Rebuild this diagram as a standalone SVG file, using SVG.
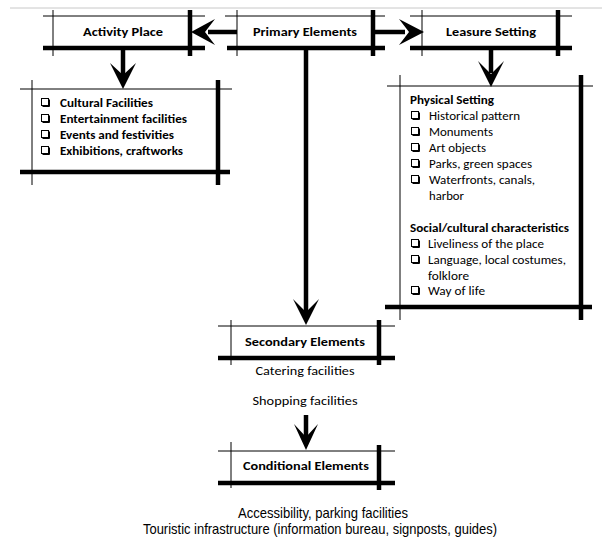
<svg xmlns="http://www.w3.org/2000/svg" xmlns:xlink="http://www.w3.org/1999/xlink" width="602" height="542" viewBox="0 0 602 542">
<style>
.thin{stroke:#000;stroke-width:1;fill:none}
.thick{stroke:#000;stroke-width:4.5;fill:none}
.shaft{stroke:#000;stroke-width:4.5;fill:none}
.head{fill:#000;stroke:none}
.t{font-family:Carlito,Lato,"Open Sans",sans-serif;font-size:12.8px;fill:#000}
.b{font-weight:bold}
.c{text-anchor:middle}
.a{font-family:"Liberation Sans",Arial,sans-serif;font-size:14.5px;fill:#000;text-anchor:middle}
</style>
<defs>
<g id="cb"><rect x="0.5" y="0.5" width="7" height="7" fill="#fff" stroke="#000" stroke-width="1"/><path d="M8.5 1.5V8.5H1.5" stroke="#000" stroke-width="1" fill="none"/></g>
</defs>
<rect width="602" height="542" fill="#fff"/>
<line x1="10" y1="8" x2="602" y2="8" stroke="#c8c8c8" stroke-width="1"/>

<g id="connectors">
  <line class="shaft" x1="237" y1="32" x2="208" y2="32"/>
  <path class="head" d="M191 32L215 19L205 32L215 45Z"/>
  <line class="shaft" x1="373" y1="32" x2="405" y2="32"/>
  <path class="head" d="M424 32L399 19L409 32L399 45Z"/>
  <line class="shaft" x1="123" y1="48" x2="123" y2="75"/>
  <path class="head" d="M123 89L110 63L123 75L136 63Z"/>
  <line class="shaft" x1="491" y1="48" x2="491" y2="73"/>
  <path class="head" d="M491 87L478 61L491 74L504 61Z"/>
  <line class="shaft" x1="306" y1="48" x2="306" y2="312"/>
  <path class="head" d="M306 325L293 299L306 312L319 299Z"/>
  <line class="shaft" x1="306" y1="415" x2="306" y2="437"/>
  <path class="head" d="M306 450L294 424L306 437L318 424Z"/>
</g>

<g id="activity-place">
  <line class="thin" x1="43" y1="16" x2="205" y2="16"/>
  <line class="thin" x1="53" y1="10" x2="53" y2="56"/>
  <line class="thick" x1="190" y1="10" x2="190" y2="56"/>
  <line class="thick" x1="43" y1="48" x2="205" y2="48"/>
  <text class="t b c" x="123" y="36" textLength="80" lengthAdjust="spacingAndGlyphs">Activity Place</text>
</g>

<g id="primary-elements">
  <line class="thin" x1="225" y1="16" x2="385" y2="16"/>
  <line class="thin" x1="237" y1="10" x2="237" y2="56"/>
  <line class="thick" x1="373" y1="10" x2="373" y2="56"/>
  <line class="thick" x1="227" y1="48" x2="385" y2="48"/>
  <text class="t b c" x="305" y="36" textLength="104" lengthAdjust="spacingAndGlyphs">Primary Elements</text>
</g>

<g id="leasure-setting">
  <line class="thin" x1="410" y1="16" x2="572" y2="16"/>
  <line class="thin" x1="422" y1="10" x2="422" y2="56"/>
  <line class="thick" x1="558" y1="10" x2="558" y2="56"/>
  <line class="thick" x1="410" y1="48" x2="572" y2="48"/>
  <text class="t b c" x="491" y="36" textLength="90" lengthAdjust="spacingAndGlyphs">Leasure Setting</text>
</g>

<g id="activity-list">
  <line class="thin" x1="20" y1="89" x2="232" y2="89"/>
  <line class="thin" x1="32" y1="80" x2="32" y2="185"/>
  <line class="thick" x1="218" y1="80" x2="218" y2="185"/>
  <line class="thick" x1="20" y1="172" x2="230" y2="172"/>
  <use xlink:href="#cb" x="41" y="98"/>
  <use xlink:href="#cb" x="41" y="114"/>
  <use xlink:href="#cb" x="41" y="130"/>
  <use xlink:href="#cb" x="41" y="146"/>
  <text class="t b" x="60" y="107" textLength="93" lengthAdjust="spacingAndGlyphs">Cultural Facilities</text>
  <text class="t b" x="60" y="123" textLength="127" lengthAdjust="spacingAndGlyphs">Entertainment facilities</text>
  <text class="t b" x="60" y="139" textLength="114" lengthAdjust="spacingAndGlyphs">Events and festivities</text>
  <text class="t b" x="60" y="155" textLength="123" lengthAdjust="spacingAndGlyphs">Exhibitions, craftworks</text>
</g>

<g id="leasure-list">
  <line class="thin" x1="387" y1="86" x2="593" y2="86"/>
  <line class="thin" x1="400" y1="75" x2="400" y2="320"/>
  <line class="thick" x1="581" y1="75" x2="581" y2="320"/>
  <line class="thick" x1="385" y1="307" x2="592" y2="307"/>
  <text class="t b" x="410" y="104" textLength="84" lengthAdjust="spacingAndGlyphs">Physical Setting</text>
  <use xlink:href="#cb" x="411" y="111"/>
  <use xlink:href="#cb" x="411" y="127"/>
  <use xlink:href="#cb" x="411" y="143"/>
  <use xlink:href="#cb" x="411" y="159"/>
  <use xlink:href="#cb" x="411" y="175"/>
  <text class="t" x="429" y="120" textLength="91" lengthAdjust="spacingAndGlyphs">Historical pattern</text>
  <text class="t" x="429" y="136" textLength="64" lengthAdjust="spacingAndGlyphs">Monuments</text>
  <text class="t" x="429" y="152" textLength="57" lengthAdjust="spacingAndGlyphs">Art objects</text>
  <text class="t" x="429" y="168" textLength="103" lengthAdjust="spacingAndGlyphs">Parks, green spaces</text>
  <text class="t" x="429" y="184" textLength="106" lengthAdjust="spacingAndGlyphs">Waterfronts, canals,</text>
  <text class="t" x="429" y="200" textLength="35" lengthAdjust="spacingAndGlyphs">harbor</text>
  <text class="t b" x="410" y="232" textLength="159" lengthAdjust="spacingAndGlyphs">Social/cultural characteristics</text>
  <use xlink:href="#cb" x="411" y="239"/>
  <use xlink:href="#cb" x="411" y="255"/>
  <use xlink:href="#cb" x="411" y="286"/>
  <text class="t" x="428" y="248" textLength="116" lengthAdjust="spacingAndGlyphs">Liveliness of the place</text>
  <text class="t" x="428" y="264" textLength="138" lengthAdjust="spacingAndGlyphs">Language, local costumes,</text>
  <text class="t" x="428" y="280" textLength="41" lengthAdjust="spacingAndGlyphs">folklore</text>
  <text class="t" x="428" y="295" textLength="57" lengthAdjust="spacingAndGlyphs">Way of life</text>
</g>

<g id="secondary-elements">
  <line class="thin" x1="218" y1="326" x2="395" y2="326"/>
  <line class="thin" x1="231" y1="320" x2="231" y2="365"/>
  <line class="thick" x1="379" y1="320" x2="379" y2="365"/>
  <line class="thick" x1="218" y1="358" x2="395" y2="358"/>
  <text class="t b c" x="305" y="346" textLength="120" lengthAdjust="spacingAndGlyphs">Secondary Elements</text>
  <text class="t c" x="305" y="375" textLength="99" lengthAdjust="spacingAndGlyphs">Catering facilities</text>
  <text class="t c" x="305" y="405" textLength="105" lengthAdjust="spacingAndGlyphs">Shopping facilities</text>
</g>

<g id="conditional-elements">
  <line class="thin" x1="218" y1="451" x2="395" y2="451"/>
  <line class="thin" x1="231" y1="442" x2="231" y2="488"/>
  <line class="thick" x1="379" y1="445" x2="379" y2="490"/>
  <line class="thick" x1="218" y1="483" x2="395" y2="483"/>
  <text class="t b c" x="306" y="470" textLength="126" lengthAdjust="spacingAndGlyphs">Conditional Elements</text>
  <text class="a" x="323" y="518" textLength="170" lengthAdjust="spacingAndGlyphs">Accessibility, parking facilities</text>
  <text class="a" x="320" y="534" textLength="354" lengthAdjust="spacingAndGlyphs">Touristic infrastructure (information bureau, signposts, guides)</text>
</g>
</svg>
